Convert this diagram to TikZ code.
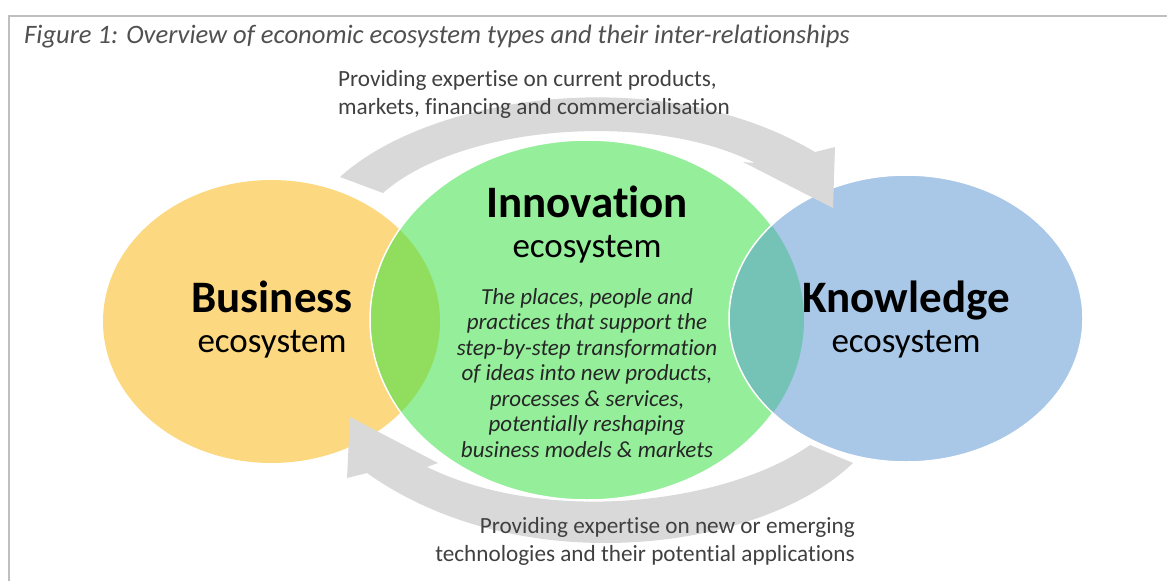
\documentclass[tikz,border=0pt]{standalone}
\usepackage{fontspec}
\setmainfont[Ligatures=NoCommon]{Carlito}
\definecolor{bizyellow}{HTML}{FCD980}
\definecolor{innogreen}{HTML}{94EE9A}
\definecolor{bizinno}{HTML}{91DE5E}
\definecolor{knowblue}{HTML}{A9C8E8}
\definecolor{innoknow}{HTML}{75C2B6}
\definecolor{arrowgray}{HTML}{D9D9D9}
\definecolor{framegray}{HTML}{BFBFBF}
\definecolor{captiongray}{HTML}{505050}
\definecolor{labelgray}{HTML}{404040}
\tikzset{
  flowarrow/.style={fill=arrowgray},
  ecoedge/.style={draw=white, line width=1.5pt},
  econame/.style={inner sep=0pt, font=\fontsize{45}{50}\selectfont\bfseries},
  ecosub/.style={inner sep=0pt, font=\fontsize{35}{40}\selectfont},
  flowlabel/.style={inner sep=0pt, text=labelgray, font=\fontsize{23.2}{28}\selectfont},
  figcaption/.style={inner sep=0pt, text=captiongray, font=\fontsize{26.6}{30}\selectfont\itshape},
  desc/.style={inner sep=0pt, align=center, text=black!85, font=\fontsize{23}{25.5}\selectfont\itshape}
}
\begin{document}
\begin{tikzpicture}[x=1pt,y=-1pt]
      \useasboundingbox (0,0) rectangle (1167,581);
      \draw[framegray, line width=2pt] (9,581) -- (9,16) -- (1167,16);
      \fill[bizyellow] (271.5,321.5) ellipse [x radius=168.5pt, y radius=141.5pt];
      \path[fill=innogreen, ecoedge] (587,320) ellipse [x radius=217pt, y radius=180pt];
      \begin{scope}
        \clip (271.5,321.5) ellipse [x radius=168.5pt, y radius=141.5pt];
        \fill[bizinno] (587,320) ellipse [x radius=216pt, y radius=179pt];
      \end{scope}
      \fill[knowblue] (906,318.5) ellipse [x radius=177pt, y radius=143.5pt];
      \begin{scope}
        \clip (587,320) ellipse [x radius=217pt, y radius=180pt];
        \fill[innoknow] (906,318.5) ellipse [x radius=177pt, y radius=143.5pt];
      \end{scope}
      \draw[ecoedge] (906,318.5) ellipse [x radius=177pt, y radius=143.5pt];
      \fill[flowarrow] (340,177) .. controls (430,95) and (660,60) .. (815,152) -- (835,147) -- (833,208)
        -- (743,162) -- (755,163) .. controls (650,110) and (460,125) .. (383,193) -- cycle;
      \fill[flowarrow] (853,463) .. controls (760,552) and (520,582) .. (367,473) -- (347,478) -- (350,417)
        -- (438,463) -- (427,467) .. controls (550,527) and (730,502) .. (810,445) -- cycle;
      \node[figcaption, anchor=base west] (fig) at (24,43) {Figure 1: Overview of economic ecosystem types and their inter-relationships};
      \node[flowlabel, anchor=west, align=left] (toplbl) at (338,94) {Providing expertise on current products,\\markets, financing and commercialisation};
      \node[flowlabel, anchor=east, align=right] (botlbl) at (855,541) {Providing expertise on new or emerging\\technologies and their potential applications};
      \node[econame, anchor=base] (biz) at (272,312) {Business};
      \node[ecosub, anchor=base] (bizeco) at (272,352) {ecosystem};
      \node[econame, anchor=base] (inno) at (587,217) {Innovation};
      \node[ecosub, anchor=base] (innoeco) at (587,257) {ecosystem};
      \node[econame, anchor=base] (know) at (906,312) {Knowledge};
      \node[ecosub, anchor=base] (knoweco) at (906,352) {ecosystem};
      \node[desc] (innodesc) at (587,373) {The places, people and\\practices that support the\\step-by-step transformation\\of ideas into new products,\\processes \& services,\\potentially reshaping\\business models \& markets};
    \end{tikzpicture}
\end{document}
